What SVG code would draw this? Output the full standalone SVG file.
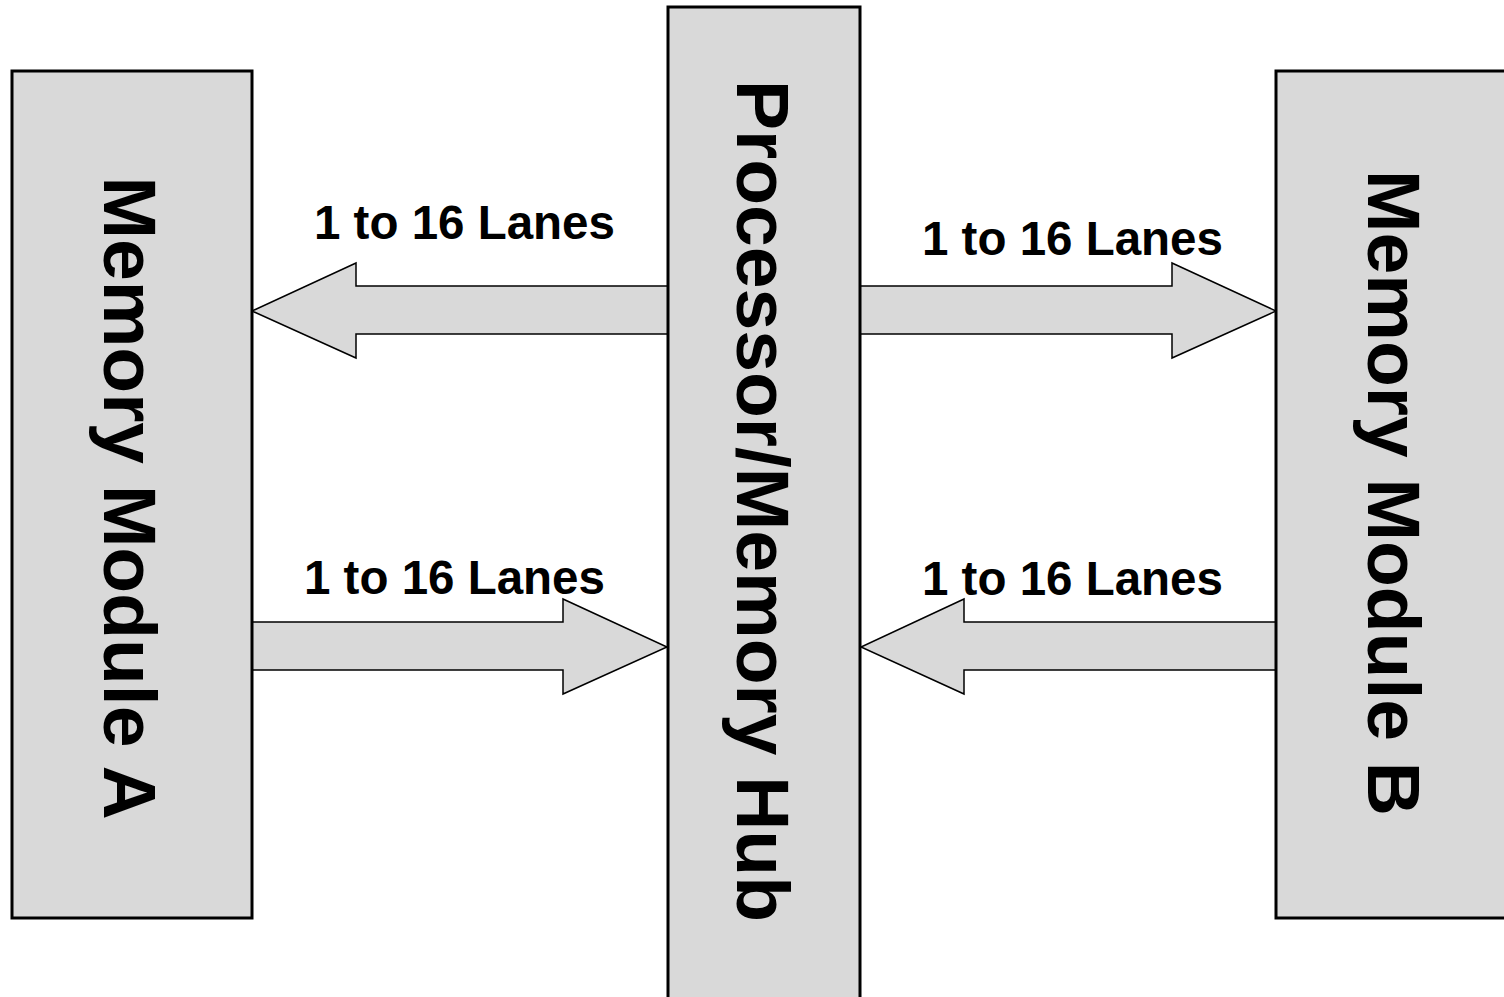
<svg xmlns="http://www.w3.org/2000/svg" width="1504" height="997" viewBox="0 0 1504 997">
<style>
.box{fill:#d9d9d9;stroke:#000;stroke-width:3}
.arr{fill:#d9d9d9;stroke:#000;stroke-width:1.5;stroke-linejoin:miter}
.lbl{font-family:"Liberation Sans",Arial,sans-serif;font-weight:bold;font-size:47.5px;fill:#000}
.big{font-family:"Liberation Sans",Arial,sans-serif;font-weight:bold;font-size:75px;fill:#000;text-anchor:middle}
</style>
<rect width="1504" height="997" fill="#fff"/>
<g id="connectors">
<polygon class="arr" points="668,286 356,286 356,263 252,311 356,358 356,334 668,334"/>
<polygon class="arr" points="860,286 1172,286 1172,263 1276,311 1172,358 1172,334 860,334"/>
<polygon class="arr" points="252,622 563,622 563,599 667,647 563,694 563,670 252,670"/>
<polygon class="arr" points="1276,622 964,622 964,599 861,647 964,694 964,670 1276,670"/>
<text class="lbl" x="314" y="239">1 to 16 Lanes</text>
<text class="lbl" x="922" y="255">1 to 16 Lanes</text>
<text class="lbl" x="304" y="594">1 to 16 Lanes</text>
<text class="lbl" x="922" y="595">1 to 16 Lanes</text>
</g>
<g id="moduleA">
<rect class="box" x="12" y="71" width="240" height="847"/>
<text class="big" transform="translate(104,498) rotate(90)">Memory Module A</text>
</g>
<g id="hub">
<rect class="box" x="668" y="7" width="192" height="1000"/>
<text class="big" transform="translate(737,501) rotate(90)">Processor/Memory Hub</text>
</g>
<g id="moduleB">
<rect class="box" x="1276" y="71" width="240" height="847"/>
<text class="big" transform="translate(1368,493) rotate(90)">Memory Module B</text>
</g>
</svg>
